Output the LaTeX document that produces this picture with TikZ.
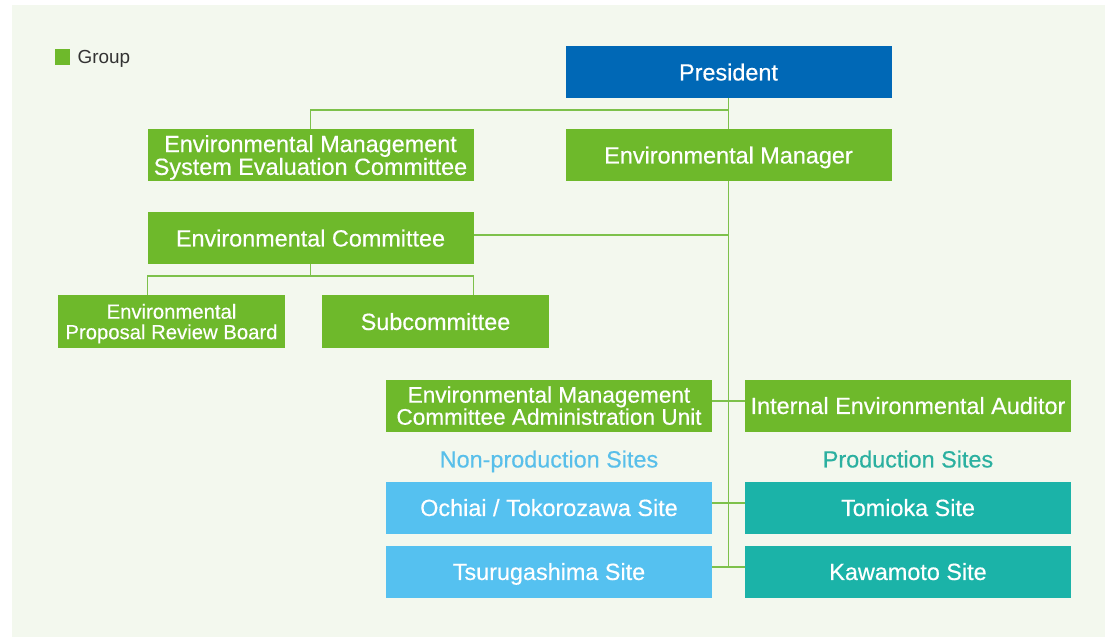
\documentclass[tikz,border=0pt]{standalone}
\usepackage{fontspec}
\setmainfont{Liberation Sans}
\newfontface\medfont{Liberation Sans}[FakeBold=0.4]
\usetikzlibrary{positioning}
\definecolor{bgcol}{HTML}{F3F8EE}
\definecolor{grpcol}{HTML}{6EB92B}
\definecolor{prescol}{HTML}{0068B6}
\definecolor{skycol}{HTML}{55C1F0}
\definecolor{prodcol}{HTML}{1BB3A8}
\definecolor{skytext}{HTML}{58BFEA}
\definecolor{prodtext}{HTML}{2BB0A0}
\definecolor{linecol}{HTML}{7DC14B}
\definecolor{keytext}{HTML}{333333}
\begin{document}
\begin{tikzpicture}[x=1pt, y=-1pt,
    box/.style={rectangle, fill=grpcol, text=white, minimum width=326pt, minimum height=52pt, inner sep=0pt, text depth=0pt, align=center, font=\medfont\fontsize{23.4}{20.5}\selectfont},
    president/.style={box, fill=prescol},
    nonprodsite/.style={box, fill=skycol},
    prodsite/.style={box, fill=prodcol},
    narrow/.style={box, minimum width=227pt, minimum height=53pt},
    sitelabel/.style={text depth=0pt, font=\medfont\fontsize{23.4}{28}\selectfont},
    link/.style={draw=linecol, line width=1.2pt}
]
    \useasboundingbox (0,0) rectangle (1105,637);
    \fill[white] (0,0) rectangle (1105,637);
    \fill[bgcol] (12,5) rectangle (1105,637);

    \node[fill=grpcol, minimum size=15.5pt, inner sep=0pt] (key) at (62.5,57) {};
    \node[right=7pt of key, inner sep=0pt, text depth=0pt, text=keytext, font=\fontsize{18.9}{22}\selectfont] (keylabel) {Group};

    \node[president] (pres) at (728.5,72) {President};
    \node[box] (mgr) at (728.5,155) {Environmental Manager};
    \node[box] (emsec) at (310.5,155) {Environmental Management\\System Evaluation Committee};
    \node[box] (envc) at (310.5,238) {Environmental Committee};
    \node[narrow, font=\medfont\fontsize{20.3}{20.5}\selectfont] (prb) at (171.5,321.5) {Environmental\\Proposal Review Board};
    \node[narrow] (subc) at (435.5,321.5) {Subcommittee};
    \node[box, font=\medfont\fontsize{22.6}{20.5}\selectfont] (admin) at (549,405.5) {Environmental Management\\Committee Administration Unit};
    \node[box] (audit) at (908,405.5) {Internal Environmental Auditor};
    \node[sitelabel, text=skytext] (nonprod) at (549,459) {Non-production Sites};
    \node[sitelabel, text=prodtext] (prod) at (908,459) {Production Sites};
    \node[nonprodsite] (ochiai) at (549,507.5) {Ochiai / Tokorozawa Site};
    \node[prodsite] (tomioka) at (908,507.5) {Tomioka Site};
    \node[nonprodsite] (tsuru) at (549,571.5) {Tsurugashima Site};
    \node[prodsite] (kawa) at (908,571.5) {Kawamoto Site};

    \coordinate (split) at (728.5,110);
    \coordinate (trunkend) at (728.5,567);
    \coordinate (fork) at (310.5,276);

    \draw[link] (pres.south) -- (mgr.north);
    \draw[link] (split) -| (emsec.north);
    \draw[link] (mgr.south) -- (trunkend);
    \draw[link] ([yshift=3pt]envc.east) -- ([yshift=3pt]envc.east -| mgr.south);
    \draw[link] (envc.south) -- (fork);
    \draw[link] (prb.north -| envc.west) |- (fork) -| (subc.north -| envc.east);
    \draw[link] ([yshift=4.5pt]admin.east) -- ([yshift=4.5pt]audit.west);
    \draw[link] ([yshift=4.5pt]ochiai.east) -- ([yshift=4.5pt]tomioka.west);
    \draw[link] ([yshift=4.5pt]tsuru.east) -- ([yshift=4.5pt]kawa.west);
\end{tikzpicture}
\end{document}
